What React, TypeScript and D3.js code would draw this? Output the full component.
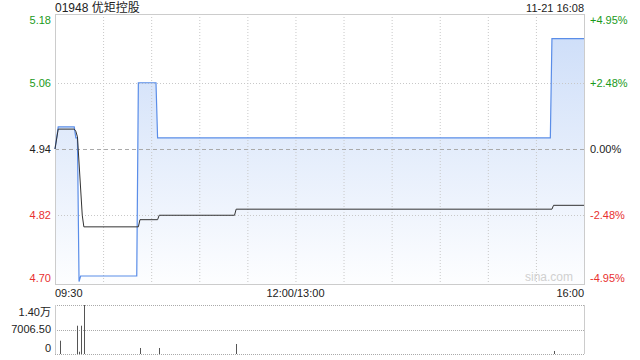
import React from 'react';
import * as d3 from 'd3';

const title = '01948 优矩控股';
const timestamp = '11-21 16:08';
const priceTicks = [5.18, 5.06, 4.94, 4.82, 4.7];
const priceTickLabels = ['5.18', '5.06', '4.94', '4.82', '4.70'];
const pctTickLabels = ['+4.95%', '+2.48%', '0.00%', '-2.48%', '-4.95%'];
const tickColors = ['#1a9a1a', '#1a9a1a', '#222', '#e8312f', '#e8312f'];
const priceDomain = [4.6955, 5.1845];
const timeLabels = ['09:30', '12:00/13:00', '16:00'];
const timeLabelMinutes = [0, 150, 330];
const gridMinutes = [30, 60, 90, 120, 150, 180, 210, 240, 270, 300];
const totalMinutes = 330;

const priceMinutes = [0, 2, 12, 13, 14, 15, 16, 51, 52, 63, 64, 309, 310, 330];
const priceValues = [4.94, 4.98, 4.98, 4.96, 4.96, 4.7, 4.71, 4.71, 5.06, 5.06, 4.96, 4.96, 5.14, 5.14];

const avgMinutes = [0, 2, 12, 13, 14, 17, 18, 52, 53, 64, 65, 112, 113, 310, 311, 330];
const avgValues = [4.94, 4.976, 4.976, 4.972, 4.962, 4.82, 4.799, 4.799, 4.812, 4.812, 4.82, 4.82, 4.831, 4.831, 4.838, 4.838];

const volMinutes = [3, 14, 15, 16, 18, 53, 65, 113, 311];
const volValues = [3800, 8090, 650, 8090, 14013, 1716, 1716, 2860, 860];
const volTicks = [14013, 7006.5, 0];
const volTickLabels = ['1.40万', '7006.50', '0'];

const FONT = "'Liberation Sans', Arial, 'Noto Sans CJK SC', sans-serif";

export default function App() {
  const L = 55, R = 584, T = 14, B = 284;
  const VT = 305, VB = 354;
  const x = d3.scaleLinear().domain([0, totalMinutes]).range([L, R]);
  const y = d3.scaleLinear().domain(priceDomain).range([B, T]);
  const vy = d3.scaleLinear().domain([0, 14013]).range([VB, VT]);

  const pricePts: [number, number][] = priceMinutes.map((m, i) => [m, priceValues[i]]);
  const avgPts: [number, number][] = avgMinutes.map((m, i) => [m, avgValues[i]]);
  const line = d3.line<[number, number]>().x(d => x(d[0])).y(d => y(d[1]));
  const area = d3.area<[number, number]>().x(d => x(d[0])).y0(B).y1(d => y(d[1]));

  const labelY = (i: number) => {
    const yy = y(priceTicks[i]);
    if (i === 0) return T + 10;
    if (i === priceTicks.length - 1) return B - 2;
    return yy + 4;
  };

  return (
    <svg width={640} height={360} style={{ position: 'absolute', left: 0, top: 0, background: '#fff' }} fontFamily={FONT}>
      <defs>
        <linearGradient id="ag" x1="0" y1={T} x2="0" y2={B} gradientUnits="userSpaceOnUse">
          <stop offset="0" stopColor="#3c7ce6" stopOpacity={0.27} />
          <stop offset="1" stopColor="#3c7ce6" stopOpacity={0.01} />
        </linearGradient>
      </defs>
      <text x={L} y={11.5} fontSize={12} fill="#222">{title}</text>
      <text x={R} y={11.5} fontSize={11} fill="#222" textAnchor="end">{timestamp}</text>

      {/* area */}
      <path d={area(pricePts) || ''} fill="url(#ag)" />

      {/* vertical grid */}
      {gridMinutes.map(m => (
        <line key={m} x1={x(m) + 0.5} x2={x(m) + 0.5} y1={T} y2={B} stroke="#c8c8c8" strokeDasharray="1,2" />
      ))}
      {/* horizontal grid */}
      {priceTicks.map((p, i) => {
        if (i === 0 || i === priceTicks.length - 1) return null;
        const yy = Math.round(y(p)) + 0.5;
        return i === 2 ? (
          <line key={p} x1={L} x2={R} y1={yy} y2={yy} stroke="#aaa" strokeDasharray="4,3" />
        ) : (
          <line key={p} x1={L} x2={R} y1={yy} y2={yy} stroke="#c8c8c8" strokeDasharray="1,2" />
        );
      })}
      {/* border */}
      <rect x={L + 0.5} y={T + 0.5} width={R - L} height={B - T} fill="none" stroke="#ccc" />

      <path d={line(pricePts) || ''} fill="none" stroke="#5a8de8" strokeWidth={1.2} />
      <path d={line(avgPts) || ''} fill="none" stroke="#333" strokeWidth={1} />

      {priceTicks.map((p, i) => (
        <text key={'l' + p} x={51} y={labelY(i)} fontSize={11} fill={tickColors[i]} textAnchor="end">{priceTickLabels[i]}</text>
      ))}
      {priceTicks.map((p, i) => (
        <text key={'r' + p} x={590} y={labelY(i)} fontSize={11} fill={tickColors[i]}>{pctTickLabels[i]}</text>
      ))}

      <text x={573} y={281} fontSize={12} fill="#d0d0d0" textAnchor="end">sina.com</text>

      {timeLabels.map((t, i) => (
        <text key={t} x={x(timeLabelMinutes[i])} y={297} fontSize={11} fill="#222"
          textAnchor={i === 0 ? 'start' : i === timeLabels.length - 1 ? 'end' : 'middle'}>{t}</text>
      ))}

      {/* volume panel */}
      {volTicks.map(v => (
        <line key={'vg' + v} x1={L} x2={R} y1={Math.round(vy(v)) + 0.5} y2={Math.round(vy(v)) + 0.5} stroke="#aaa" strokeDasharray="1,1" />
      ))}
      <line x1={L + 0.5} x2={L + 0.5} y1={VT} y2={VB} stroke="#ccc" />
      <line x1={R + 0.5} x2={R + 0.5} y1={VT} y2={VB} stroke="#ccc" />
      {volMinutes.map((m, i) => (
        <line key={'v' + m} x1={Math.round(x(m)) + 0.5} x2={Math.round(x(m)) + 0.5} y1={VB} y2={vy(volValues[i])} stroke="#555" strokeWidth={1} />
      ))}
      {volTicks.map((v, i) => (
        <text key={'vl' + v} x={51} y={[316, 333, 352][i]} fontSize={11} fill="#222" textAnchor="end">{volTickLabels[i]}</text>
      ))}
    </svg>
  );
}
